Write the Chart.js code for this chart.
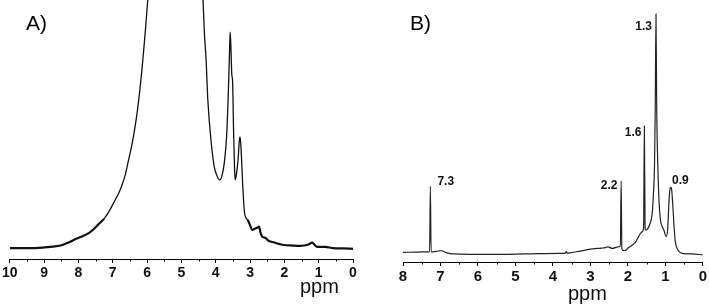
<!DOCTYPE html>
<html>
<head>
<meta charset="utf-8">
<script src="https://cdn.jsdelivr.net/npm/chart.js@4/dist/chart.umd.min.js"></script>
<style>
  body { margin: 0; background: #fff; font-family: "Liberation Sans", Arial, sans-serif; }
  #wrap { position: relative; width: 709px; height: 308px; overflow: hidden; }
  .panel { position: absolute; top: 0; height: 308px; }
  .lbl { position: absolute; font-size: 21px; line-height: 21px; color: #000; }
  .unit { position: absolute; font-size: 20px; line-height: 20px; color: #111; }
</style>
</head>
<body>
<div id="wrap">
  <div class="panel" style="left:0;width:360px"><canvas id="chartA" width="360" height="308"></canvas></div>
  <div class="panel" style="left:360px;width:349px"><canvas id="chartB" width="349" height="308"></canvas></div>
  <div class="lbl" style="left:26px;top:12px">A)</div>
  <div class="lbl" style="left:410px;top:12px">B)</div>
  <div class="unit" style="left:300px;top:276px">ppm</div>
  <div class="unit" style="left:568px;top:283px">ppm</div>
</div>
<script>
// ---------------------------------------------------------------
// Spectrum A (ppm, relative intensity; values above 100 run off the top)
// ---------------------------------------------------------------
const ppmA = [10.0, 9.5, 9.05, 8.75, 8.47, 8.25, 8.08, 7.9, 7.7, 7.55, 7.41, 7.25, 7.12, 6.93, 6.83, 6.73,
  6.63, 6.54, 6.45, 6.35, 6.28, 6.21, 6.15, 6.08, 6.03, 5.98, 5.9, 5.7, 5.4, 5.1, 4.8, 4.6, 4.45,
  4.37, 4.33, 4.28, 4.23, 4.13, 4.04, 3.96, 3.89, 3.82, 3.75, 3.68, 3.63, 3.6, 3.58, 3.56, 3.53, 3.51,
  3.48, 3.45, 3.43, 3.4, 3.35, 3.31, 3.29, 3.26, 3.21, 3.16, 3.07, 3.03, 2.93, 2.85, 2.8, 2.74, 2.69,
  2.64, 2.54, 2.49, 2.3, 2.01, 1.75, 1.53, 1.3, 1.19, 1.1, 1.05, 0.81, 0.58, 0.3, 0.0];
const intA = [4.2, 4.2, 4.4, 4.8, 5.4, 6.6, 7.7, 8.7, 10.0, 11.6, 13.5, 15.6, 18.1, 22.8, 25.3, 28.6,
  32.8, 38.2, 43.6, 51.0, 57.5, 65.3, 73.0, 83.4, 91.5, 100, 112, 140, 180, 220, 200, 150, 115,
  100, 87.3, 76.8, 61.4, 44.8, 35.5, 32.0, 30.5, 32.0, 37.1, 47.9, 65.3, 78.8, 87.6, 82.6, 71.0, 69.1,
  49.8, 34.4, 30.5, 32.4, 38.2, 45.9, 47.1, 42.1, 27.8, 17.8, 15.1, 14.0, 11.2, 11.8, 12.0, 12.5, 10.0,
  8.5, 8.1, 7.3, 6.4, 5.4, 5.2, 5.1, 5.6, 6.3, 5.2, 4.7, 4.7, 4.2, 4.1, 3.9];

// ---------------------------------------------------------------
// Spectrum B
// ---------------------------------------------------------------
const ppmB = [8.0, 7.6, 7.37, 7.29, 7.27, 7.25, 7.2, 7.05, 6.97, 6.85, 6.66, 5.6, 4.71, 3.83, 3.66, 3.64,
  3.62, 3.38, 2.94, 2.7, 2.6, 2.54, 2.41, 2.27, 2.2, 2.18, 2.16, 2.1, 1.97, 1.88, 1.79, 1.72, 1.66,
  1.6, 1.58, 1.56, 1.54, 1.51, 1.44, 1.38, 1.35, 1.32, 1.29, 1.27, 1.25, 1.23, 1.2, 1.17, 1.13, 1.08,
  1.04, 0.98, 0.94, 0.9, 0.87, 0.85, 0.83, 0.81, 0.77, 0.74, 0.7, 0.63, 0.5, 0.28, 0.0];
const intB = [3.7, 3.8, 3.9, 3.9, 29.0, 3.9, 3.9, 4.2, 4.3, 3.6, 3.1, 2.9, 3.1, 3.3, 3.4, 4.0,
  3.4, 3.9, 5.0, 5.3, 5.5, 5.8, 5.2, 5.8, 5.9, 31.0, 5.0, 4.3, 5.6, 6.5, 7.7, 9.5, 11.0,
  11.8, 13.7, 51.9, 12.6, 12.2, 13.5, 16.0, 18.6, 25.6, 36.4, 58.0, 94.7, 58.0, 36.4, 23.7, 16.0, 13.4,
  12.2, 9.7, 12.2, 23.7, 28.2, 28.5, 27.5, 23.7, 14.1, 8.4, 5.7, 3.9, 3.2, 3.1, 2.7];

// peak annotations for B (text, label centre in ppm / intensity)
const peakText = ['7.3', '2.2', '1.6', '1.3', '0.9'];
const peakLabelPpm = [6.86, 2.50, 1.86, 1.58, 0.60];
const peakLabelInt = [30.7, 29.2, 49.2, 89.7, 31.1];

const FONT = '"Liberation Sans", Arial, sans-serif';

// short ticks at the half-ppm positions
const minorTicks = {
  id: 'minorTicks',
  afterDraw(chart) {
    const s = chart.scales.x, ctx = chart.ctx;
    ctx.save();
    ctx.strokeStyle = '#000';
    ctx.lineWidth = 1;
    for (let v = 0.5; v < s.max; v += 1) {
      const px = Math.round(s.getPixelForValue(v)) + 0.5;
      ctx.beginPath();
      ctx.moveTo(px, s.top);
      ctx.lineTo(px, s.top + 2.5);
      ctx.stroke();
    }
    ctx.restore();
  }
};

const peakLabels = {
  id: 'peakLabels',
  afterDatasetsDraw(chart, args, opts) {
    if (!opts.text) return;
    const ctx = chart.ctx, sx = chart.scales.x, sy = chart.scales.y;
    ctx.save();
    ctx.fillStyle = '#111';
    ctx.font = 'bold 12px ' + FONT;
    ctx.textAlign = 'center';
    ctx.textBaseline = 'middle';
    opts.text.forEach((t, i) => {
      ctx.fillText(t, sx.getPixelForValue(opts.x[i]), sy.getPixelForValue(opts.y[i]));
    });
    ctx.restore();
  }
};

function makeChart(id, ppm, intensity, xMax, pad, axisH, tickSize, color, labels) {
  return new Chart(document.getElementById(id), {
    type: 'line',
    data: {
      datasets: [{
        data: ppm.map((p, i) => ({ x: p, y: intensity[i] })),
        borderColor: color,
        borderWidth: 1.2,
        pointRadius: 0,
        cubicInterpolationMode: 'monotone',
        fill: false,
        segment: labels ? undefined : {
          borderWidth: c => (c.p0.parsed.y < 16 && c.p1.parsed.y < 16) ? 2.2 : 1.3
        }
      }]
    },
    options: {
      responsive: false,
      animation: false,
      layout: { padding: pad },
      plugins: {
        legend: { display: false },
        tooltip: { enabled: false },
        peakLabels: labels || {}
      },
      scales: {
        x: {
          type: 'linear', reverse: true, min: 0, max: xMax,
          border: { display: true, color: '#000', width: 1 },
          grid: {
            drawOnChartArea: false, tickLength: 4,
            tickColor: c => (c.tick && c.tick.value % 1 !== 0) ? 'rgba(0,0,0,0)' : '#000'
          },
          ticks: {
            stepSize: 0.5, autoSkip: false, maxRotation: 0, padding: 2, color: '#111',
            font: { family: FONT, size: tickSize, weight: 'bold' },
            callback: v => (v % 1 === 0 ? String(v) : '')
          },
          afterFit: s => { s.height = axisH; }
        },
        y: { display: false, min: 0, max: 100 }
      }
    },
    plugins: [minorTicks, peakLabels]
  });
}

makeChart('chartA', ppmA, intA, 10, { left: 7, right: 7, top: 0, bottom: 0 }, 49, 14, '#111', null);
makeChart('chartB', ppmB, intB, 8, { left: 43, right: 5, top: 0, bottom: 0 }, 46, 15, '#222',
  { text: peakText, x: peakLabelPpm, y: peakLabelInt });
</script>
</body>
</html>
